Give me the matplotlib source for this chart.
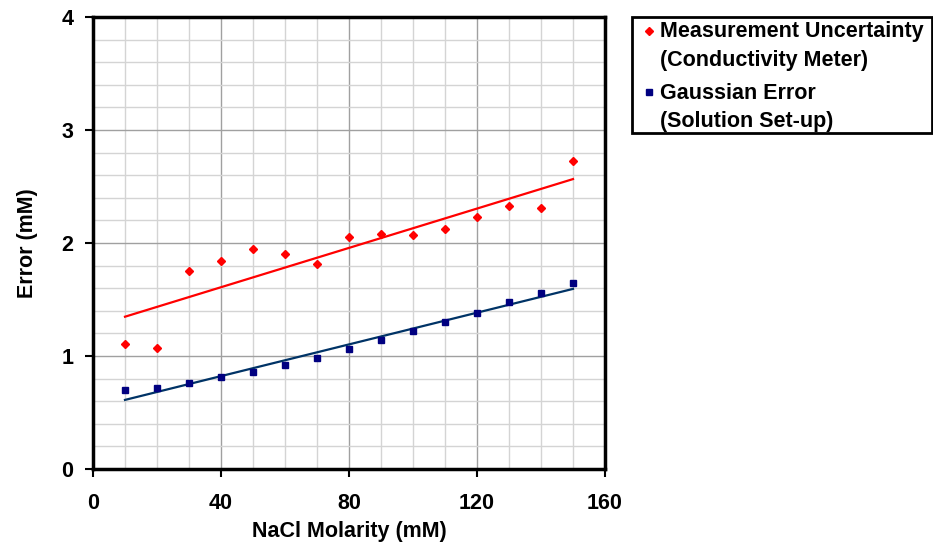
import numpy as np
import matplotlib.pyplot as plt
from matplotlib.ticker import MultipleLocator
from matplotlib.patches import Rectangle
from matplotlib.lines import Line2D

plt.rcParams['font.family'] = ['Liberation Sans', 'DejaVu Sans']
plt.rcParams['font.weight'] = 'bold'

# NaCl molarity (mM)
molarity = [10, 20, 30, 40, 50, 60, 70, 80, 90, 100, 110, 120, 130, 140, 150]
# measurement uncertainty of the conductivity meter (mM)
meter_err = [1.11, 1.07, 1.75, 1.84, 1.95, 1.90, 1.81, 2.05, 2.08, 2.07,
             2.12, 2.23, 2.33, 2.31, 2.73]
# gaussian error of the solution set-up (mM)
gauss_err = [0.70, 0.72, 0.76, 0.81, 0.86, 0.92, 0.98, 1.06, 1.14, 1.22,
             1.30, 1.38, 1.48, 1.56, 1.65]
legend_lines = [('Measurement Uncertainty', '(Conductivity Meter)'),
                ('Gaussian Error', '(Solution Set-up)')]

W, H = 933, 546
fs = 15.5
fig = plt.figure(figsize=(W / 100, H / 100), dpi=100)
ax = fig.add_axes([93 / W, 1 - 469 / H, (605 - 93) / W, (469 - 17) / H])

x = np.array(molarity)
# linear trendlines
p1 = np.polyfit(x, meter_err, 1)
p2 = np.polyfit(x, gauss_err, 1)
xx = np.array([x.min(), x.max()])

ax.plot(xx, np.polyval(p1, xx), color='#ff0000', lw=1.6, zorder=3)
ax.plot(xx, np.polyval(p2, xx), color='#003366', lw=1.6, zorder=3)
ax.plot(x, meter_err, 'D', color='#ff0000', ms=4.5, mec='#ff0000', zorder=4)
ax.plot(x, gauss_err, 's', color='#000080', ms=5, mec='#000080', zorder=4)

ax.set_xlim(0, 160)
ax.set_ylim(0, 4)
ax.xaxis.set_major_locator(MultipleLocator(40))
ax.xaxis.set_minor_locator(MultipleLocator(10))
ax.yaxis.set_major_locator(MultipleLocator(1))
ax.yaxis.set_minor_locator(MultipleLocator(0.2))
ax.grid(which='minor', color='#d4d4d4', lw=1.0, zorder=0)
ax.grid(which='major', color='#a0a0a0', lw=1.0, zorder=0)
ax.set_axisbelow(True)
for s in ax.spines.values():
    s.set_linewidth(2.5)
ax.tick_params(which='major', direction='out', length=6, width=1.5,
               labelsize=fs)
ax.tick_params(axis='x', pad=11)
ax.tick_params(axis='y', pad=8)
ax.tick_params(which='minor', length=0)

ax.set_xlabel('NaCl Molarity (mM)', fontsize=fs, fontweight='bold', labelpad=5)
ax.set_ylabel('Error (mM)', fontsize=fs, fontweight='bold', labelpad=17)

# legend box drawn by hand: marker sits on the first line of each label
fig.add_artist(Rectangle((632 / W, 1 - 133 / H), (932 - 632) / W, (133 - 17) / H,
                         transform=fig.transFigure, fill=False, lw=2, ec='black'))
fig.add_artist(Line2D([649 / W], [1 - 31 / H], transform=fig.transFigure,
                      marker='D', ms=4.5, color='#ff0000', ls='none'))
fig.add_artist(Line2D([649 / W], [1 - 92 / H], transform=fig.transFigure,
                      marker='s', ms=5, color='#000080', ls='none'))
ys = [32, 60, 93, 121]
labels = [legend_lines[0][0], legend_lines[0][1], legend_lines[1][0], legend_lines[1][1]]
for lab, yy in zip(labels, ys):
    fig.text(660 / W, 1 - yy / H, lab, fontsize=fs, fontweight='bold', va='center')

fig.savefig('out.png', dpi=100)
